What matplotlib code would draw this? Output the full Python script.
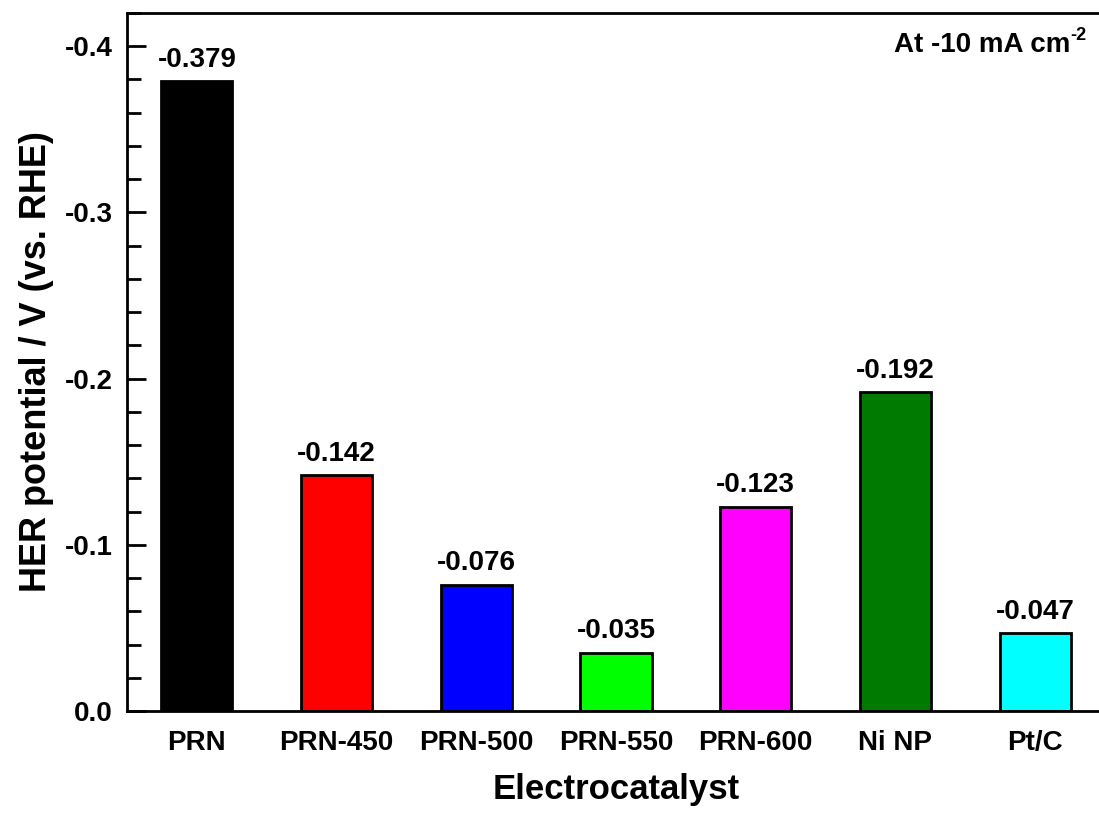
import matplotlib
matplotlib.use("Agg")
import matplotlib.pyplot as plt
from matplotlib.ticker import MultipleLocator, FormatStrFormatter

plt.rcParams['font.family'] = ['Liberation Sans', 'DejaVu Sans']
plt.rcParams['font.weight'] = 'bold'
plt.rcParams['axes.unicode_minus'] = False

# data
catalysts = ['PRN', 'PRN-450', 'PRN-500', 'PRN-550', 'PRN-600', 'Ni NP', 'Pt/C']
potentials = [-0.379, -0.142, -0.076, -0.035, -0.123, -0.192, -0.047]
bar_colors = ['#000000', '#ff0000', '#0000ff', '#00ff00', '#ff00ff', '#007a00', '#00ffff']

fig = plt.figure(figsize=(10.99, 8.14), dpi=100)
ax = fig.add_axes([127/1099, 103/814, (1105-127)/1099, (711-13)/814])

x = range(len(catalysts))
bars = ax.bar(x, potentials, width=0.51, color=bar_colors, edgecolor='black', linewidth=2)

for xi, v in zip(x, potentials):
    ax.annotate('%.3f' % v, (xi, v), xytext=(0, 6), textcoords='offset points',
                ha='center', va='bottom', fontsize=20, fontweight='bold')

ax.set_xlim(-0.5, 6.5)
ax.set_ylim(0, -0.42)
ax.set_xticks(list(x))
ax.set_xticklabels(catalysts, fontsize=20, fontweight='bold')
ax.tick_params(axis='x', length=0, pad=14)
ax.yaxis.set_major_locator(MultipleLocator(0.1))
ax.yaxis.set_minor_locator(MultipleLocator(0.02))
ax.yaxis.set_major_formatter(FormatStrFormatter('%.1f'))
ax.tick_params(axis='y', which='major', direction='in', length=14, width=2, labelsize=20, pad=10)
ax.tick_params(axis='y', which='minor', direction='in', length=10, width=2)
for s in ['left', 'bottom', 'top']:
    ax.spines[s].set_linewidth(2)
ax.spines['right'].set_visible(False)

ax.set_xlabel('Electrocatalyst', fontsize=25, fontweight='bold', labelpad=12)
ax.set_ylabel('HER potential / V (vs. RHE)', fontsize=26, fontweight='bold', labelpad=8)

# condition note, superscript drawn as its own text so the hyphen stays a hyphen
r = fig.canvas.get_renderer()
sup = fig.text(1086/1099, 1 - 36/814, '-2', ha='right', va='center', fontsize=13, fontweight='bold')
w = sup.get_window_extent(r).width
fig.text((1086 - w)/1099, 1 - 45/814, 'At -10 mA cm', ha='right', va='center',
         fontsize=20, fontweight='bold')

fig.savefig('out.png', dpi=100)
